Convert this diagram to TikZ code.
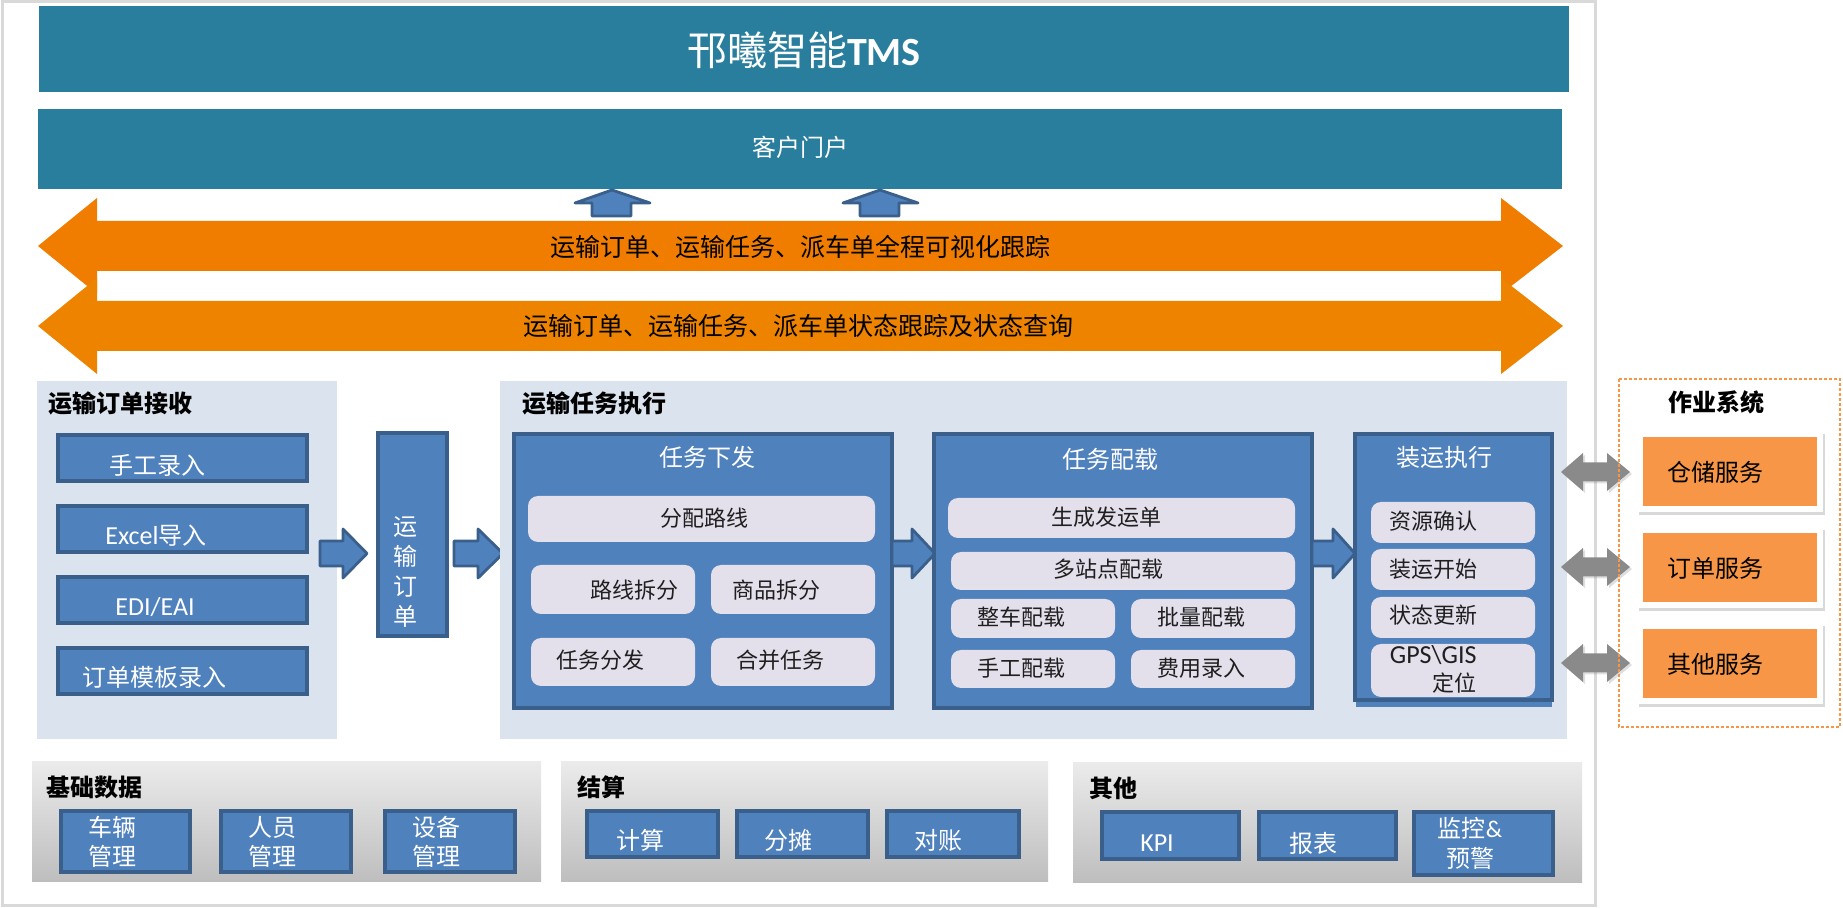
\documentclass[tikz,border=0pt]{standalone}
\usepackage{fontspec}
\setmainfont{Noto Sans CJK SC}
\newfontfamily\lat{Carlito}
\usetikzlibrary{shadows}

\definecolor{tealbar}{HTML}{287E9C}
\definecolor{orarrow}{HTML}{F07D00}
\definecolor{orarrowb}{HTML}{EE8300}
\definecolor{pnlblue}{HTML}{DBE3EF}
\definecolor{boxblue}{HTML}{4F81BD}
\definecolor{boxedge}{HTML}{3A5F8B}
\definecolor{lilac}{HTML}{E3DFEB}
\definecolor{svcorange}{HTML}{F79646}
\definecolor{framegray}{HTML}{D9D9D9}
\definecolor{pnltop}{HTML}{EBEBEB}
\definecolor{pnlbot}{HTML}{BEBEBE}
\definecolor{arrgray}{HTML}{8A8A8A}

\tikzset{
  bluebox/.style={fill=boxblue,draw=boxedge,line width=1.6pt},
  litebox/.style={fill=lilac,rounded corners=5pt},
  wtxt/.style={text=white,inner sep=0pt,font=\fontsize{12}{14}\selectfont},
  dtxt/.style={text=black!88,inner sep=0pt,font=\fontsize{11}{13}\selectfont},
  ttl/.style={text=black,inner sep=0pt,font=\fontsize{12}{14}\selectfont\bfseries},
}

% right-pointing block arrow: start x, head base x, tip x
\newcommand{\blkarrow}[3]{\draw[bluebox,line width=1.4pt,line join=round] (#1,541) -- (#2,541) -- (#2,529) -- (#3,553.5) -- (#2,578) -- (#2,566) -- (#1,566) -- cycle;}
% wide orange double arrow: centre y, colour
\newcommand{\dblarrow}[2]{\fill[#2] (38,#1) -- (97,#1-48) -- (97,#1-25) -- (1501,#1-25) -- (1501,#1-48) -- (1563,#1) -- (1501,#1+48) -- (1501,#1+25) -- (97,#1+25) -- (97,#1+48) -- cycle;}
% small up arrow: left x
\newcommand{\uparr}[1]{\draw[bluebox,line width=1.4pt,line join=round] (#1,203) -- (#1+37,190) -- (#1+75,203) -- (#1+56,203) -- (#1+56,216) -- (#1+17,216) -- (#1+17,203) -- cycle;}
% gray double arrow: centre y
\newcommand{\grayarr}[1]{\fill[arrgray,drop shadow={opacity=0.25,shadow xshift=1pt,shadow yshift=-1pt}] (1561,#1) -- (1583,#1-19) -- (1583,#1-9.5) -- (1607,#1-9.5) -- (1607,#1-19) -- (1630,#1) -- (1607,#1+19) -- (1607,#1+9.5) -- (1583,#1+9.5) -- (1583,#1+19) -- cycle;}

\begin{document}
\begin{tikzpicture}[x=0.5pt,y=-0.5pt]
\useasboundingbox (0,0) rectangle (1843,908);
\draw[framegray,line width=1.5pt] (2,2) rectangle (1595,905);

% top bars
\fill[tealbar] (39,6) rectangle (1569,92);
\node[wtxt,font=\fontsize{20}{24}\selectfont] (tms) at (804,50) {邗曦智能{\lat\bfseries TMS}};
\fill[tealbar] (38,109) rectangle (1562,189);
\node[wtxt] (portal) at (800,147) {客户门户};
\uparr{575}
\uparr{843}

% tracking arrows
\dblarrow{246}{orarrow}
\dblarrow{326}{orarrowb}
\node[text=black,inner sep=0pt,font=\fontsize{12.5}{14}\selectfont] (trk1) at (800,247) {运输订单、运输任务、派车单全程可视化跟踪};
\node[text=black,inner sep=0pt,font=\fontsize{12.5}{14}\selectfont] (trk2) at (798,326) {运输订单、运输任务、派车单状态跟踪及状态查询};

% order receiving
\fill[pnlblue] (37,381) rectangle (337,739);
\node[ttl,anchor=west] (recv) at (48,403) {运输订单接收};
\draw[bluebox] (58,435) rectangle (307,481);
\node[wtxt] (manual) at (157,465) {手工录入};
\draw[bluebox] (58,506) rectangle (307,552);
\node[wtxt] (excel) at (156,536) {{\lat\fontsize{13}{14}\selectfont Excel}导入};
\draw[bluebox] (58,577) rectangle (307,623);
\node[wtxt,font=\lat\fontsize{13}{14}\selectfont] (edi) at (155,607) {EDI/EAI};
\draw[bluebox] (58,648) rectangle (307,694);
\node[wtxt] (tmpl) at (155,677) {订单模板录入};

\blkarrow{320}{343}{367}
\draw[bluebox] (378,433) rectangle (447,636);
\node[wtxt,align=center,font=\fontsize{12}{15}\selectfont] (order) at (405,572) {运\\输\\订\\单};
\blkarrow{454}{478}{503}

% task execution
\fill[pnlblue] (500,381) rectangle (1567,739);
\node[ttl,anchor=west] (exec) at (522,403) {运输任务执行};

\draw[bluebox] (514,434) rectangle (892,708);
\node[wtxt] (dispatch) at (707,457) {任务下发};
\fill[litebox] (528,496) rectangle (875,542);
\node[dtxt] (route) at (704,518) {分配路线};
\fill[litebox] (531,565) rectangle (695,614);
\node[dtxt] (rsplit) at (634,590) {路线拆分};
\fill[litebox] (711,565) rectangle (875,614);
\node[dtxt] (gsplit) at (776,590) {商品拆分};
\fill[litebox] (531,638) rectangle (695,686);
\node[dtxt] (tsend) at (600,660) {任务分发};
\fill[litebox] (711,638) rectangle (875,686);
\node[dtxt] (tmerge) at (780,660) {合并任务};

\blkarrow{892}{912}{935}

\draw[bluebox] (934,434) rectangle (1312,708);
\node[wtxt] (load) at (1110,459) {任务配载};
\fill[litebox] (948,498) rectangle (1295,538);
\node[dtxt] (waybill) at (1106,517) {生成发运单};
\fill[litebox] (951,552) rectangle (1295,590);
\node[dtxt] (multi) at (1108,569) {多站点配载};
\fill[litebox] (951,599) rectangle (1115,638);
\node[dtxt] (ftl) at (1021,617) {整车配载};
\fill[litebox] (1131,599) rectangle (1295,638);
\node[dtxt] (batch) at (1201,617) {批量配载};
\fill[litebox] (951,650) rectangle (1115,688);
\node[dtxt] (mload) at (1021,668) {手工配载};
\fill[litebox] (1131,650) rectangle (1295,688);
\node[dtxt] (fee) at (1201,668) {费用录入};

\blkarrow{1312}{1333}{1355}

\fill[boxblue] (1356,698) rectangle (1552,707);
\draw[bluebox] (1355,434) rectangle (1552,700);
\node[wtxt] (ship) at (1444,457) {装运执行};
\fill[litebox] (1371,502) rectangle (1535,543);
\node[dtxt] (res) at (1433,521) {资源确认};
\fill[litebox] (1371,549) rectangle (1535,590);
\node[dtxt] (start) at (1433,569) {装运开始};
\fill[litebox] (1371,597) rectangle (1535,638);
\node[dtxt] (state) at (1433,615) {状态更新};
\fill[litebox] (1371,644) rectangle (1535,697);
\node[dtxt,align=right,anchor=east,font=\fontsize{11}{14}\selectfont] (gps) at (1477,669) {{\lat\fontsize{13}{14}\selectfont GPS\textbackslash GIS}\\定位};

% operation systems
\grayarr{472}
\grayarr{567}
\grayarr{663}
\draw[svcorange,line width=1pt,dash pattern=on 1.5pt off 1pt] (1619,379) rectangle (1840,727);
\node[ttl] (ops) at (1716,402) {作业系统};
\foreach \y/\t/\n in {431/仓储服务/wms,527/订单服务/oms,623/其他服务/other}{
  \fill[white,drop shadow={opacity=0.3,shadow xshift=1pt,shadow yshift=-1.5pt}] (1637,\y) rectangle (1823,\y+81);
  \fill[svcorange] (1643,\y+6) rectangle (1817,\y+75);
  \node[text=black,inner sep=0pt,font=\fontsize{12}{14}\selectfont] (\n) at (1715,\y+41) {\t};
}

% bottom panels
\shade[top color=pnltop,bottom color=pnlbot] (32,762) rectangle (541,881);
\node[ttl,anchor=west] (basic) at (46,787) {基础数据};
\draw[bluebox] (61,811) rectangle (190,872);
\node[wtxt,align=center,font=\fontsize{12}{14.5}\selectfont] (veh) at (112,842) {车辆\\管理};
\draw[bluebox] (221,811) rectangle (351,872);
\node[wtxt,align=center,font=\fontsize{12}{14.5}\selectfont] (staff) at (272,842) {人员\\管理};
\draw[bluebox] (385,811) rectangle (515,872);
\node[wtxt,align=center,font=\fontsize{12}{14.5}\selectfont] (equip) at (436,842) {设备\\管理};

\shade[top color=pnltop,bottom color=pnlbot] (561,762) rectangle (1048,881);
\node[ttl,anchor=west] (settle) at (577,787) {结算};
\draw[bluebox] (587,811) rectangle (718,857);
\node[wtxt] (calc) at (640,840) {计算};
\draw[bluebox] (737,811) rectangle (868,857);
\node[wtxt] (alloc) at (788,840) {分摊};
\draw[bluebox] (887,811) rectangle (1019,857);
\node[wtxt] (recon) at (938,840) {对账};

\shade[top color=pnltop,bottom color=pnlbot] (1073,763) rectangle (1582,882);
\node[ttl,anchor=west] (misc) at (1089,788) {其他};
\draw[bluebox] (1102,812) rectangle (1239,859);
\node[wtxt,font=\lat\fontsize{13}{14}\selectfont] (kpi) at (1157,843) {KPI};
\draw[bluebox] (1259,812) rectangle (1396,859);
\node[wtxt] (report) at (1313,843) {报表};
\draw[bluebox] (1414,812) rectangle (1553,875);
\node[wtxt,align=center,font=\fontsize{12}{15}\selectfont] (alert) at (1470,843) {监控{\lat\&}\\预警};
\end{tikzpicture}
\end{document}
